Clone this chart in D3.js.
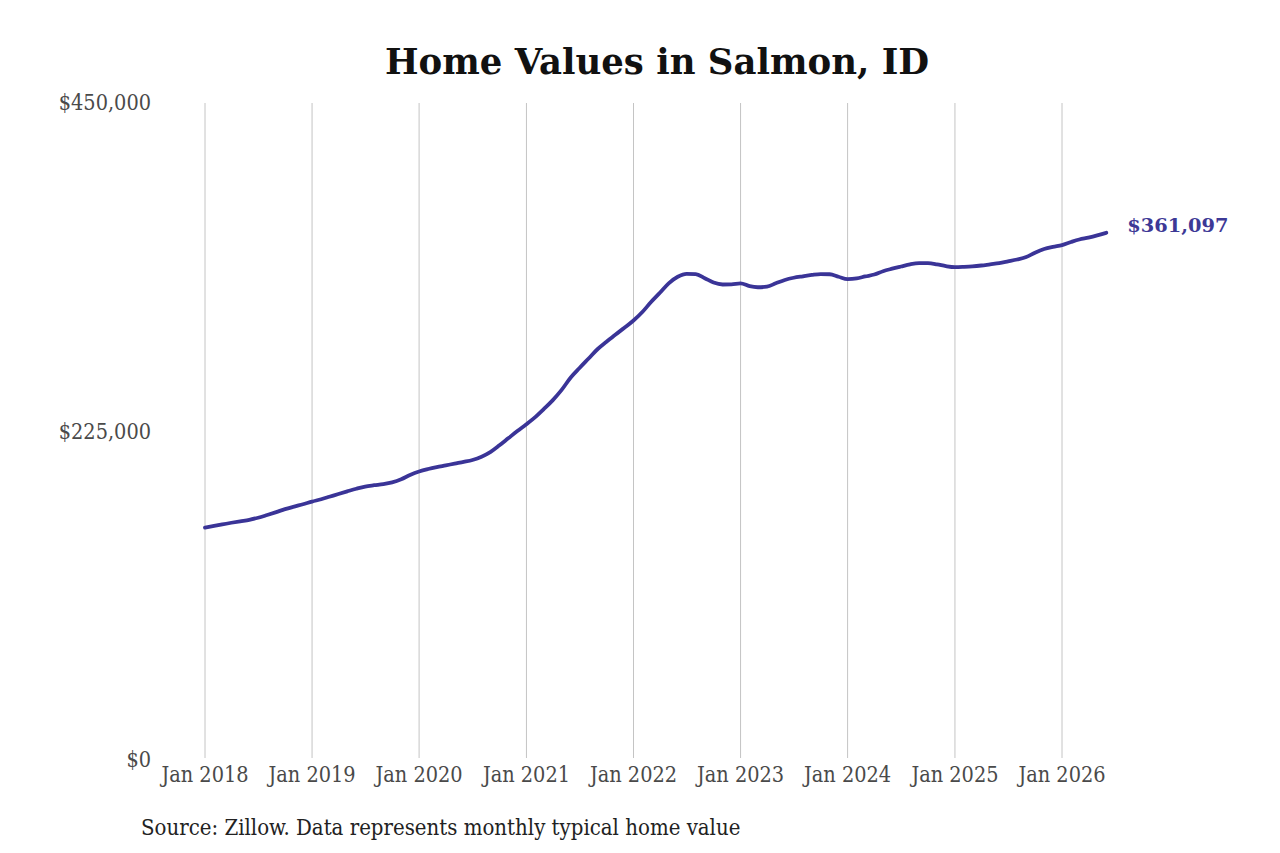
<!DOCTYPE html>
<html>
<head>
<meta charset="utf-8">
<script src="https://cdn.jsdelivr.net/npm/d3@7"></script>
<style>
  html, body { margin: 0; padding: 0; background: #fff; }
  svg { display: block; }
  .ser { font-family: "DejaVu Serif", serif; }
  .cond { font-family: "DejaVu Serif", serif; font-stretch: condensed; }
</style>
</head>
<body>
<svg id="chart" width="1280" height="853"></svg>
<script>
const title = "Home Values in Salmon, ID";
const source = "Source: Zillow. Data represents monthly typical home value";
const startMonth = "2018-01";
const values = [
  159200, 160300, 161400, 162500, 163500, 164500, 165900, 167800, 169800, 171800, 173600, 175200,
  177000, 178600, 180300, 182200, 184000, 185800, 187300, 188200, 189000, 190200, 192300, 195200,
  197600, 199300, 200600, 201800, 203000, 204200, 205500, 207700, 211000, 215500, 220500, 225300,
  230000, 235000, 240300, 246500, 253500, 262000, 268500, 275000, 281500, 286500, 291500, 296000,
  301000, 307000, 313500, 320000, 326500, 331000, 333000, 332800, 330000, 327000, 325700, 325800,
  326500, 324500, 323800, 324200, 326500, 328800, 330300, 331300, 332200, 332800, 332700, 331000,
  329300, 329800, 331200, 332500, 334800, 336500, 338000, 339500, 340300, 340300, 339500, 338300,
  337600, 337800, 338100, 338700, 339500, 340300, 341500, 342800, 344500, 347500, 350000, 351500,
  352700, 354800, 356500, 357800, 359300, 361097
];
const yTicks = [0, 225000, 450000];
const xTickYears = [2018, 2019, 2020, 2021, 2022, 2023, 2024, 2025, 2026];
const lastLabel = "$361,097";

const parse = d3.timeParse("%Y-%m");
const t0 = parse(startMonth);
const data = values.map((v, i) => ({ date: d3.timeMonth.offset(t0, i), value: v }));

const svg = d3.select("#chart");
const x = d3.scaleTime().domain([new Date(2018, 0, 1), new Date(2026, 0, 1)]).range([205, 1062]);
const y = d3.scaleLinear().domain([0, 450000]).range([760, 103]);

// vertical grid lines
svg.append("g").selectAll("line")
  .data(xTickYears)
  .join("line")
  .attr("x1", d => x(new Date(d, 0, 1)))
  .attr("x2", d => x(new Date(d, 0, 1)))
  .attr("y1", y(450000))
  .attr("y2", 758)
  .attr("stroke", "#c4c4c4")
  .attr("stroke-width", 1);

// x tick labels
svg.append("g").selectAll("text")
  .data(xTickYears)
  .join("text")
  .attr("class", "cond")
  .attr("x", d => x(new Date(d, 0, 1)))
  .attr("y", 782)
  .attr("text-anchor", "middle")
  .attr("font-size", 21.5)
  .attr("fill", "#4a4a4a")
  .text(d => d3.timeFormat("%b %Y")(new Date(d, 0, 1)));

// y tick labels
const fmt = d3.format("$,");
svg.append("g").selectAll("text")
  .data(yTicks)
  .join("text")
  .attr("class", "cond")
  .attr("x", 151)
  .attr("y", d => y(d) + 7)
  .attr("text-anchor", "end")
  .attr("font-size", 21.5)
  .attr("fill", "#4a4a4a")
  .text(d => fmt(d));

// line
const line = d3.line()
  .x(d => x(d.date))
  .y(d => y(d.value))
  .curve(d3.curveMonotoneX);

svg.append("path")
  .datum(data)
  .attr("d", line)
  .attr("fill", "none")
  .attr("stroke", "#3a3497")
  .attr("stroke-width", 3.8)
  .attr("stroke-linejoin", "round")
  .attr("stroke-linecap", "round");

// end label
const last = data[data.length - 1];
svg.append("text")
  .attr("class", "ser")
  .attr("x", x(last.date) + 21)
  .attr("y", y(last.value) - 1)
  .attr("font-size", 19.4)
  .attr("font-weight", "bold")
  .attr("fill", "#3d3996")
  .text(lastLabel);

// title
svg.append("text")
  .attr("class", "ser")
  .attr("x", 657)
  .attr("y", 74)
  .attr("text-anchor", "middle")
  .attr("font-size", 35.5)
  .attr("font-weight", "bold")
  .attr("fill", "#111")
  .text(title);

// source
svg.append("text")
  .attr("class", "cond")
  .attr("x", 141)
  .attr("y", 835)
  .attr("font-size", 22)
  .attr("fill", "#222")
  .text(source);
</script>
</body>
</html>
